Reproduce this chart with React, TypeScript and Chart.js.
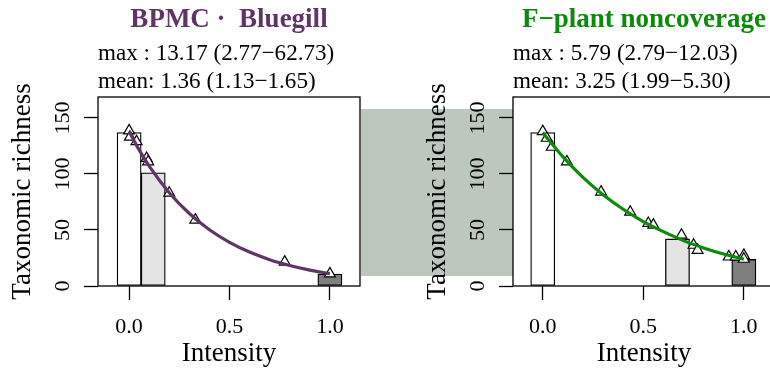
import React, { useEffect, useRef } from 'react';
import { Chart, registerables } from 'chart.js';

Chart.register(...registerables);

// ---- shared axes ----
const xTicks = [0, 0.5, 1.0];
const yTicks = [0, 50, 100, 150];
const binWidth = 0.12;

// ---- left panel: BPMC · Bluegill ----
const leftTitle = 'BPMC \u00b7  Bluegill';
const leftStats = ['max : 13.17 (2.77\u221262.73)', 'mean: 1.36 (1.13\u22121.65)'];
const leftBinCenters = [0, 0.12, 1.0];
const leftBinCounts = [137, 101, 10.7];
const leftPointX = [0.0, 0.004, 0.037, 0.087, 0.095, 0.2, 0.33, 0.775, 1.0];
const leftPointY = [138.6, 133, 129, 114, 111, 83, 59, 21.5, 11];
const leftCurveX = [0, 0.05, 0.1, 0.2, 0.3, 0.4, 0.5, 0.6, 0.7, 0.8, 0.9, 1.0];
const leftCurveY = [138, 121.5, 107, 83.3, 64.7, 50.2, 39, 30.3, 23.5, 18.3, 14.2, 11];

// ---- right panel: F-plant noncoverage ----
const rightTitle = 'F\u2212plant noncoverage';
const rightStats = ['max : 5.79 (2.79\u221212.03)', 'mean: 3.25 (1.99\u22125.30)'];
const rightBinCenters = [0, 0.67, 1.0];
const rightBinCounts = [137, 42, 23.7];
const rightPointX = [0, 0.02, 0.045, 0.12, 0.29, 0.435, 0.525, 0.55, 0.69, 0.75, 0.77, 0.925, 0.96, 1.0, 1.0];
const rightPointY = [138, 132, 124, 111, 84, 66, 56, 54.5, 45.5, 36.5, 32, 26, 26, 27.5, 24];
const rightCurveX = [0, 0.05, 0.1, 0.2, 0.3, 0.4, 0.5, 0.6, 0.7, 0.8, 0.9, 1.0];
const rightCurveY = [137, 126, 115.5, 97, 81.5, 68.5, 57.5, 48.5, 40.5, 34, 28.5, 24];

const FONT = "'Liberation Serif', 'Times New Roman', serif";

const boxPlugin = {
  id: 'plotBox',
  afterDatasetsDraw(chart: any) {
    const { ctx, chartArea: a } = chart;
    ctx.save();
    ctx.strokeStyle = '#000';
    ctx.lineWidth = 1.3;
    ctx.strokeRect(a.left, a.top, a.right - a.left, a.bottom - a.top);
    ctx.restore();
  },
};

type PanelSpec = {
  title: string;
  stats: string[];
  color: string;
  binCenters: number[];
  binCounts: number[];
  pointX: number[];
  pointY: number[];
  curveX: number[];
  curveY: number[];
  xMin: number;
  xMax: number;
  yAxisWidth: number;
  titlePad: number;
  padRight: number;
};

function makeConfig(p: PanelSpec): any {
  const binFills = ['#ffffff', '#e3e4e3', '#7f7f7f'];
  return {
    type: 'bar',
    data: {
      datasets: [
        {
          type: 'line',
          label: 'fit',
          data: p.curveX.map((x, i) => ({ x, y: p.curveY[i] })),
          borderColor: p.color,
          borderWidth: 3.2,
          pointRadius: 0,
          cubicInterpolationMode: 'monotone',
          fill: false,
          order: 0,
        },
        {
          type: 'line',
          label: 'sites',
          data: p.pointX.map((x, i) => ({ x, y: p.pointY[i] })),
          showLine: false,
          pointStyle: 'triangle',
          pointRadius: 6.3,
          pointBackgroundColor: '#ffffff',
          pointBorderColor: '#000000',
          pointBorderWidth: 1.2,
          order: 1,
        },
        {
          type: 'bar',
          label: 'bins',
          data: p.binCenters.map((x, i) => ({ x, y: p.binCounts[i] })),
          backgroundColor: binFills,
          borderColor: '#000000',
          borderWidth: 1.3,
          borderSkipped: false,
          barThickness: (c: any) => {
            const s = c.chart.scales.x;
            return Math.abs(s.getPixelForValue(binWidth) - s.getPixelForValue(0));
          },
          order: 2,
        },
      ],
    },
    options: {
      responsive: false,
      animation: false,
      devicePixelRatio: 1,
      layout: { padding: { left: 0, right: p.padRight, top: 0, bottom: 0 } },
      plugins: {
        legend: { display: false },
        tooltip: { enabled: false },
        title: {
          display: true,
          text: p.title,
          color: p.color,
          fullSize: false,
          align: 'center',
          font: { family: FONT, size: 27, weight: 'bold', lineHeight: 1.2 },
          padding: { top: 3.8, bottom: 0 },
        },
        subtitle: {
          display: true,
          text: p.stats,
          color: '#000',
          fullSize: false,
          align: 'start',
          font: { family: FONT, size: 23.1, lineHeight: 28.3 / 23.1 },
          padding: { top: 3.2, bottom: 1 },
        },
      },
      scales: {
        x: {
          type: 'linear',
          min: p.xMin,
          max: p.xMax,
          offset: false,
          afterBuildTicks: (s: any) => {
            s.ticks = xTicks.map((v) => ({ value: v }));
          },
          afterFit: (s: any) => {
            s.height = 92;
          },
          grid: { display: true, offset: false, drawOnChartArea: false, drawTicks: true, tickLength: 14, tickColor: '#000', tickWidth: 1.3 },
          border: { display: false },
          ticks: {
            color: '#000',
            padding: 16,
            maxRotation: 0,
            font: { family: FONT, size: 22, lineHeight: 1 },
            callback: (v: any) => Number(v).toFixed(1),
          },
          title: {
            display: true,
            text: 'Intensity',
            color: '#000',
            font: { family: FONT, size: 27, lineHeight: 1 },
            padding: { top: 0, bottom: 10.7 },
          },
        },
        y: {
          type: 'linear',
          min: 0,
          max: 168.7,
          afterBuildTicks: (s: any) => {
            s.ticks = yTicks.map((v) => ({ value: v }));
          },
          afterFit: (s: any) => {
            s.width = p.yAxisWidth;
          },
          grid: { display: true, drawOnChartArea: false, drawTicks: true, tickLength: 14, tickColor: '#000', tickWidth: 1.3 },
          border: { display: false },
          ticks: {
            color: '#000',
            padding: 4,
            minRotation: 90,
            maxRotation: 90,
            crossAlign: 'center',
            font: { family: FONT, size: 22, lineHeight: 1 },
            callback: (v: any) => String(v),
          },
          title: {
            display: true,
            text: 'Taxonomic richness',
            color: '#000',
            font: { family: FONT, size: 27, lineHeight: 1 },
            padding: { top: p.titlePad, bottom: 0 },
          },
        },
      },
    },
    plugins: [boxPlugin],
  };
}

function Panel({ spec, left, width }: { spec: PanelSpec; left: number; width: number }) {
  const ref = useRef<HTMLCanvasElement | null>(null);
  useEffect(() => {
    if (!ref.current) return;
    const chart = new Chart(ref.current, makeConfig(spec));
    return () => chart.destroy();
  }, []);
  return (
    <canvas
      ref={ref}
      width={width}
      height={378}
      style={{ position: 'absolute', left, top: 0, width, height: 378 }}
    />
  );
}

const leftSpec: PanelSpec = {
  title: leftTitle,
  stats: leftStats,
  color: '#613468',
  binCenters: leftBinCenters,
  binCounts: leftBinCounts,
  pointX: leftPointX,
  pointY: leftPointY,
  curveX: leftCurveX,
  curveY: leftCurveY,
  xMin: -0.155,
  xMax: 1.15,
  yAxisWidth: 98,
  titlePad: 9.8,
  padRight: 25,
};

const rightSpec: PanelSpec = {
  title: rightTitle,
  stats: rightStats,
  color: '#0a8c0a',
  binCenters: rightBinCenters,
  binCounts: rightBinCounts,
  pointX: rightPointX,
  pointY: rightPointY,
  curveX: rightCurveX,
  curveY: rightCurveY,
  xMin: -0.148,
  xMax: 1.155,
  yAxisWidth: 128,
  titlePad: 39.5,
  padRight: 10,
};

export default function App() {
  return (
    <div
      style={{
        position: 'fixed',
        left: 0,
        top: 0,
        width: 770,
        height: 378,
        overflow: 'hidden',
        background: '#ffffff',
      }}
    >
      <div
        style={{
          position: 'absolute',
          left: 361,
          top: 109,
          width: 152,
          height: 167,
          background: '#bcc8bd',
        }}
      />
      <Panel spec={leftSpec} left={0} width={385} />
      <Panel spec={rightSpec} left={385} width={400} />
    </div>
  );
}
